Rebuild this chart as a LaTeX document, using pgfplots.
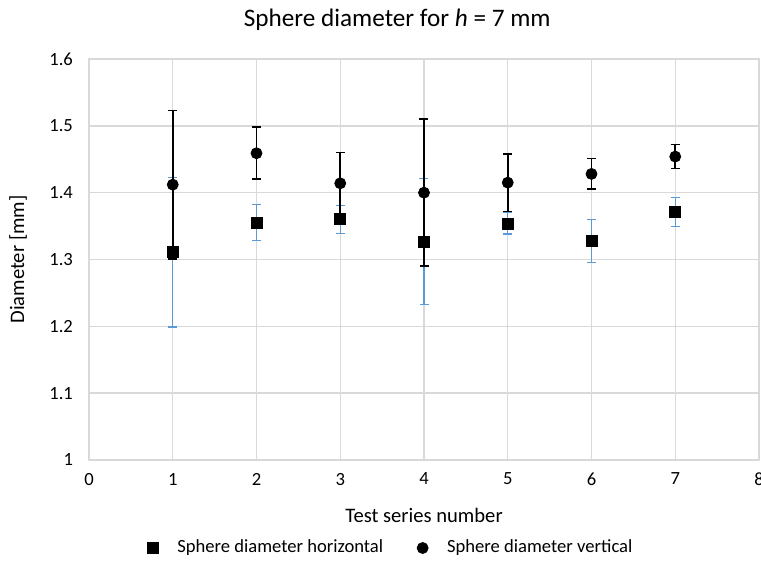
\documentclass[border=0pt]{standalone}
\usepackage{fontspec}
\setmainfont{Carlito}
\usepackage{pgfplots}
\pgfplotsset{compat=1.18}
\usepackage{pgfplotstable}
\definecolor{errblue}{HTML}{5B9BD5}
\definecolor{gridc}{HTML}{D9D9D9}
\definecolor{txt}{HTML}{000000}
\pgfplotstableread{
x y e
1 1.311 0.112
2 1.355 0.027
3 1.360 0.021
4 1.327 0.094
5 1.354 0.016
6 1.328 0.032
7 1.371 0.022
}\horizdata
\pgfplotstableread{
x y e
1 1.412 0.111
2 1.459 0.039
3 1.414 0.046
4 1.400 0.110
5 1.415 0.043
6 1.428 0.023
7 1.454 0.018
}\vertdata
\begin{document}
\begin{tikzpicture}
\useasboundingbox (-44.5pt,-52.5pt) rectangle (336pt,230pt);
\begin{axis}[
  at={(0,0)}, anchor=south west,
  scale only axis, width=335pt, height=200.5pt,
  xmin=0, xmax=8, ymin=1, ymax=1.6,
  xtick={0,1,...,8}, ytick={1,1.1,1.2,1.3,1.4,1.5,1.6},
  /pgf/number format/assume math mode=true,
  tick style={draw=none},
  grid=major, grid style={gridc, line width=0.7pt},
  axis line style={draw=gridc, line width=0.7pt},
  ticklabel style={font=\fontsize{9.3}{11}\selectfont, text=txt},
  xticklabel style={yshift=-3pt},
  yticklabel style={xshift=-4.5pt, /pgf/number format/fixed, /pgf/number format/precision=1},
  xlabel={Test series number},
  ylabel={Diameter [mm]},
  label style={font=\fontsize{10.3}{12}\selectfont},
  xlabel style={at={(axis description cs:0.5,0)}, anchor=center, yshift=-27.5pt},
  ylabel style={at={(axis description cs:0,0.5)}, anchor=center, rotate=0, yshift=35.5pt},
  title={Sphere diameter for \textit{h} = 7 mm},
  title style={font=\fontsize{12.6}{15}\selectfont, at={(axis description cs:0.46,1)}, anchor=center, yshift=13.5pt},
  legend columns=2,
  legend style={at={(axis description cs:0.452,-0.2195)}, anchor=center, draw=none,
    font=\fontsize{9.3}{11}\selectfont,
    /tikz/every odd column/.append style={column sep=7.5pt},
    /tikz/every even column/.append style={column sep=15pt}},
  legend image code/.code={\draw[#1] plot coordinates {(0cm,0cm)};},
  clip=false,
]
\addplot+[only marks, mark=square*, mark size=2.75pt, color=black, mark options={fill=black},
  error bars/.cd, y dir=both, y explicit,
  error bar style={color=errblue, line width=0.65pt},
  error mark options={rotate=90, mark size=2.25pt, color=errblue, line width=0.65pt}]
  table[x=x, y=y, y error=e] {\horizdata};
\addlegendentry{Sphere diameter horizontal}
\addplot+[only marks, mark=*, mark size=2.75pt, color=black, mark options={fill=black},
  error bars/.cd, y dir=both, y explicit,
  error bar style={color=black, line width=0.85pt},
  error mark options={rotate=90, mark size=2.25pt, color=black, line width=0.85pt}]
  table[x=x, y=y, y error=e] {\vertdata};
\addlegendentry{Sphere diameter vertical}
\end{axis}
\end{tikzpicture}
\end{document}
